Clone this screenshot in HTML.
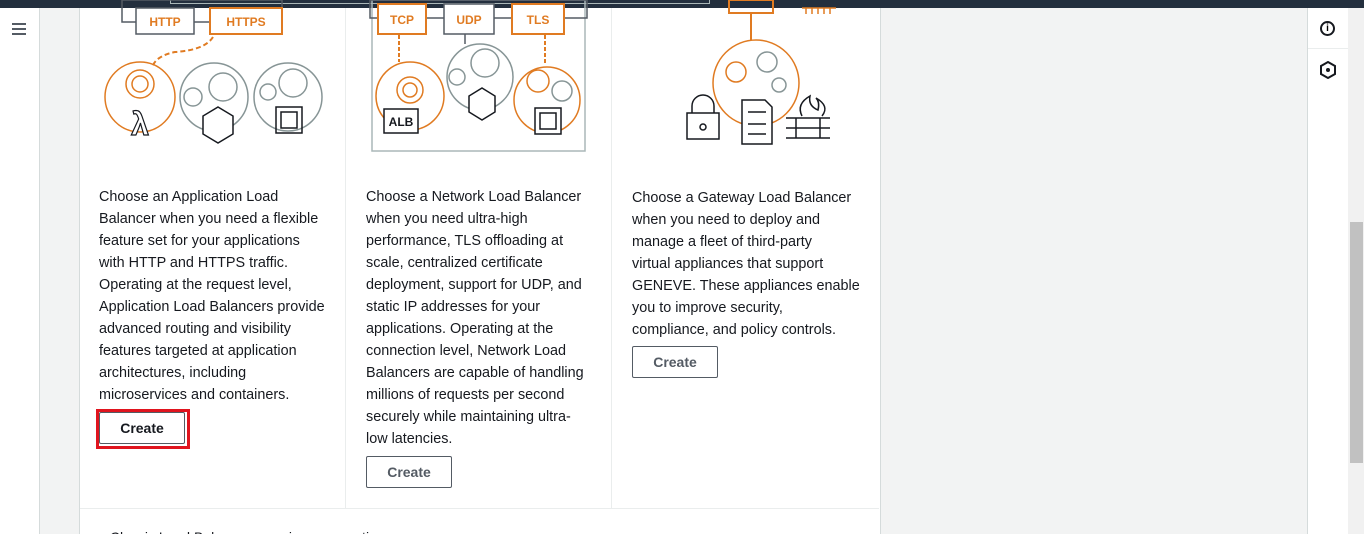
<!DOCTYPE html>
<html><head><style>
body{margin:0;width:1364px;height:534px;overflow:hidden;background:#f2f3f3;font-family:"Liberation Sans",sans-serif;position:relative}
.a{position:absolute}
.txt{font-size:14.4px;line-height:22px;color:#16191f;white-space:nowrap}
.btn{position:absolute;border:1px solid #545b64;background:#fff;font-weight:bold;font-size:14px;color:#545b64;text-align:center;box-sizing:border-box;height:32px;line-height:30px;border-radius:2px}
svg text{font-family:"Liberation Sans",sans-serif;font-weight:bold}
</style></head><body>
<div class="a" style="left:0;top:0;width:1364px;height:8px;background:#232f3e"></div>
<div class="a" style="left:170px;top:-2px;width:538px;height:5px;border:1px solid #aab7b8;border-top:none;background:#232f3e"></div>
<div class="a" style="left:0;top:8px;width:39px;height:526px;background:#fff;border-right:1px solid #d5dbdb"></div>
<div class="a" style="left:12px;top:23px;width:14px;height:2px;background:#545b64;box-shadow:0 5px 0 #545b64,0 10px 0 #545b64"></div>
<div class="a" style="left:79px;top:8px;width:800px;height:526px;background:#fff;border-left:1px solid #d5dbdb;border-right:1px solid #d5dbdb"></div>
<div class="a" style="left:345px;top:8px;width:1px;height:500px;background:#eaeded"></div>
<div class="a" style="left:611px;top:8px;width:1px;height:500px;background:#eaeded"></div>
<div class="a" style="left:80px;top:508px;width:799px;height:1px;background:#eaeded"></div>
<div class="a" style="left:99px;top:529px;font-size:14px;color:#16191f;height:5px;overflow:hidden;line-height:16px;width:400px">▸ Classic Load Balancer - previous generation</div>
<div class="a" style="left:1307px;top:8px;width:41px;height:526px;background:#fff;border-left:1px solid #d5dbdb"></div>
<div class="a" style="left:1308px;top:48px;width:40px;height:1px;background:#eaeded"></div>
<div class="a" style="left:1320px;top:21px;width:11px;height:11px;border:2px solid #16191f;border-radius:50%;font-size:10px;font-weight:bold;text-align:center;line-height:11px">i</div>
<svg class="a" style="left:1319px;top:61px" width="18" height="18"><polygon points="9,1 16,5 16,13 9,17 2,13 2,5" fill="none" stroke="#16191f" stroke-width="2"/><circle cx="9" cy="9" r="2" fill="#16191f"/></svg>
<div class="a" style="left:1348px;top:8px;width:16px;height:526px;background:#f1f1f1"></div>
<div class="a" style="left:1350px;top:222px;width:13px;height:241px;background:#c1c1c1"></div>

<svg class="a" style="left:80px;top:0" width="800" height="160" fill="none" stroke-width="1.5">
<rect x="42" y="0" width="160" height="22" stroke="#545b64"/>
<rect x="56" y="8" width="58" height="26" fill="#fff" stroke="#545b64"/>
<text x="85" y="26" font-size="12" fill="#e07b22" text-anchor="middle" stroke="none">HTTP</text>
<rect x="130" y="8" width="72" height="26" fill="#fff" stroke="#e07b22" stroke-width="2"/>
<text x="166" y="26" font-size="12" fill="#e07b22" text-anchor="middle" stroke="none">HTTPS</text>
<path d="M133,37 Q125,50 95,52 Q75,56 72,68" stroke="#e07b22" stroke-dasharray="5,3" stroke-width="2"/>
<circle cx="60" cy="97" r="35" stroke="#e07b22"/>
<circle cx="60" cy="84" r="14" stroke="#e07b22"/><circle cx="60" cy="84" r="8" stroke="#e07b22"/>
<text x="60" y="135" font-size="32" fill="#fff" stroke="#16191f" stroke-width="1.2" text-anchor="middle" font-weight="normal">λ</text>
<circle cx="134" cy="97" r="34" stroke="#879596"/>
<circle cx="143" cy="87" r="14" stroke="#879596"/><circle cx="113" cy="97" r="9" stroke="#879596"/>
<polygon points="138,107 153,116 153,134 138,143 123,134 123,116" fill="#fff" stroke="#16191f"/>
<circle cx="208" cy="97" r="34" stroke="#879596"/>
<circle cx="213" cy="83" r="14" stroke="#879596"/><circle cx="188" cy="92" r="8" stroke="#879596"/>
<rect x="196" y="107" width="26" height="26" stroke="#16191f"/><rect x="201" y="112" width="16" height="16" stroke="#16191f"/>
<rect x="292" y="0" width="213" height="151" stroke="#aab7b8"/>
<rect x="290" y="0" width="217" height="18" stroke="#545b64"/>
<rect x="298" y="4" width="48" height="30" fill="#fff" stroke="#e07b22" stroke-width="2"/>
<text x="322" y="24" font-size="12" fill="#e07b22" text-anchor="middle" stroke="none">TCP</text>
<rect x="364" y="4" width="50" height="30" fill="#fff" stroke="#545b64"/>
<text x="389" y="24" font-size="12" fill="#e07b22" text-anchor="middle" stroke="none">UDP</text>
<rect x="432" y="4" width="52" height="30" fill="#fff" stroke="#e07b22" stroke-width="2"/>
<text x="458" y="24" font-size="12" fill="#e07b22" text-anchor="middle" stroke="none">TLS</text>
<path d="M319,35 V62 M465,35 V64" stroke="#e07b22" stroke-dasharray="4,2" stroke-width="2"/>
<path d="M385,34 V44" stroke="#545b64"/>
<circle cx="330" cy="96" r="34" stroke="#e07b22"/>
<circle cx="330" cy="90" r="13" stroke="#e07b22"/><circle cx="330" cy="90" r="7" stroke="#e07b22"/>
<rect x="304" y="109" width="34" height="24" fill="#fff" stroke="#16191f"/>
<text x="321" y="126" font-size="12" fill="#16191f" text-anchor="middle" stroke="none" font-weight="normal">ALB</text>
<circle cx="400" cy="77" r="33" stroke="#879596"/>
<circle cx="405" cy="63" r="14" stroke="#879596"/><circle cx="377" cy="77" r="8" stroke="#879596"/>
<polygon points="402,88 415,96 415,112 402,120 389,112 389,96" fill="#fff" stroke="#16191f"/>
<circle cx="467" cy="100" r="33" stroke="#e07b22"/>
<circle cx="458" cy="81" r="11" stroke="#e07b22"/><circle cx="482" cy="91" r="10" stroke="#879596"/>
<rect x="455" y="108" width="26" height="26" fill="#fff" stroke="#16191f"/><rect x="460" y="113" width="16" height="16" stroke="#16191f"/>
<rect x="649" y="0" width="44" height="13" stroke="#e07b22" stroke-width="2"/>
<path d="M671,13 V40" stroke="#e07b22" stroke-width="2"/>
<path d="M722,8 H756 M726,8 v6 M732,8 v6 M738,8 v6 M744,8 v6 M750,8 v6" stroke="#e07b22"/>
<circle cx="676" cy="83" r="43" stroke="#e07b22"/>
<circle cx="656" cy="72" r="10" stroke="#e07b22"/><circle cx="687" cy="62" r="10" stroke="#879596"/><circle cx="699" cy="85" r="7" stroke="#879596"/>
<rect x="607" y="113" width="32" height="26" fill="#fff" stroke="#16191f"/><path d="M612,113 V106 a11,11 0 0 1 22,0 V113" stroke="#16191f"/><circle cx="623" cy="127" r="3" stroke="#16191f"/>
<path d="M662,100 H685 L692,107 V144 H662 Z" fill="#fff" stroke="#16191f"/>
<path d="M668,112 H686 M668,124 H686 M668,134 H686" stroke="#16191f"/>
<path d="M706,118 H750 M706,128 H750 M706,138 H750 M716,118 V138 M740,118 V138" stroke="#16191f"/>
<path d="M722,116 q-6,-12 8,-20 q-2,10 8,14 q2,-8 -2,-12 q14,8 6,18" stroke="#16191f"/>
</svg>

<div class="a txt" style="left:99px;top:186px">Choose an Application Load<br>Balancer when you need a flexible<br>feature set for your applications<br>with HTTP and HTTPS traffic.<br>Operating at the request level,<br>Application Load Balancers provide<br>advanced routing and visibility<br>features targeted at application<br>architectures, including<br>microservices and containers.</div>
<div class="a txt" style="left:366px;top:186px">Choose a Network Load Balancer<br>when you need ultra-high<br>performance, TLS offloading at<br>scale, centralized certificate<br>deployment, support for UDP, and<br>static IP addresses for your<br>applications. Operating at the<br>connection level, Network Load<br>Balancers are capable of handling<br>millions of requests per second<br>securely while maintaining ultra-<br>low latencies.</div>
<div class="a txt" style="left:632px;top:187px">Choose a Gateway Load Balancer<br>when you need to deploy and<br>manage a fleet of third-party<br>virtual appliances that support<br>GENEVE. These appliances enable<br>you to improve security,<br>compliance, and policy controls.</div>

<div class="a" style="left:96px;top:409px;width:94px;height:40px;box-sizing:border-box;border:3px solid #e0141e"></div>
<div class="btn" style="left:99px;top:412px;width:86px;color:#16191f">Create</div>
<div class="btn" style="left:366px;top:456px;width:86px">Create</div>
<div class="btn" style="left:632px;top:346px;width:86px">Create</div>
</body></html>
